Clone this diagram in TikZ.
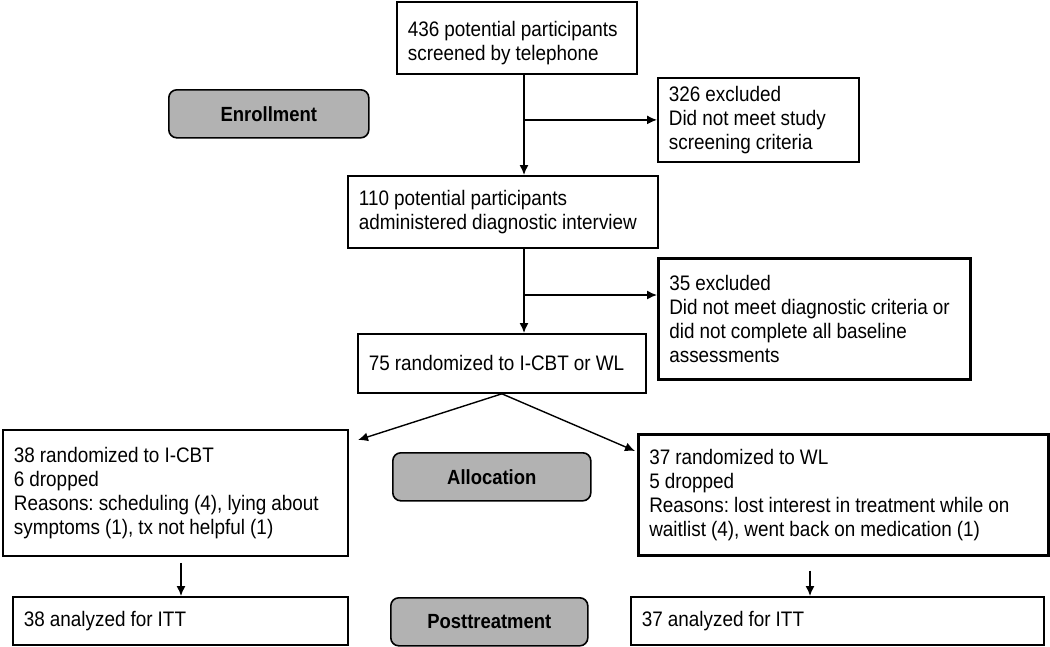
\documentclass[tikz,border=0pt]{standalone}
\usepackage{fontspec}
\setmainfont{Liberation Sans}[FakeStretch=0.9]
\usetikzlibrary{arrows.meta}
\newcommand\tightsp{\frenchspacing\spaceskip=0.24em plus 0.1em\relax}
\begin{document}
\begin{tikzpicture}[x=1pt,y=-1pt,
  box/.style={draw, line width=1.8pt, anchor=north west, align=left,
    inner xsep=11pt, inner ysep=0pt,
    font=\fontsize{21}{24}\selectfont, execute at begin node=\tightsp},
  thickbox/.style={box, line width=2.6pt},
  stage/.style={draw, line width=1.6pt, fill=black!30, rounded corners=8pt,
    anchor=north west, inner sep=0pt, font=\fontsize{20.5}{22}\selectfont\bfseries},
  arr/.style={line width=1.4pt, -{Latex[length=10pt,width=9pt]}}]
\path[use as bounding box] (0,0) rectangle (1050,646);

% main column
\node[box, minimum width=240pt, minimum height=72pt, text width=218pt] (b1) at (396,1)
  {\rule{0pt}{26pt}436 potential participants\\screened by telephone};
\node[box, minimum width=201pt, minimum height=84pt, text width=179pt] (x1) at (657,77)
  {326 excluded\\Did not meet study\\screening criteria};
\node[box, minimum width=310pt, minimum height=72pt, text width=288pt] (b2) at (347,175)
  {110 potential participants\\administered diagnostic interview};
\node[thickbox, minimum width=312pt, minimum height=121pt, text width=290pt] (x2) at (657,257)
  {35 excluded\\Did not meet diagnostic criteria or\\did not complete all baseline\\assessments};
\node[box, minimum width=288pt, minimum height=59pt, text width=266pt] (b3) at (357,333)
  {75 randomized to I-CBT or WL};

% arms
\node[box, minimum width=345pt, minimum height=126pt, text width=323pt] (l1) at (2,429)
  {38 randomized to I-CBT\\6 dropped\\Reasons: scheduling (4), lying about\\symptoms (1), tx not helpful (1)};
\node[thickbox, minimum width=410pt, minimum height=121pt, text width=388pt] (r1) at (637,433)
  {37 randomized to WL\\5 dropped\\Reasons: lost interest in treatment while on\\waitlist (4), went back on medication (1)};
\node[box, minimum width=335pt, minimum height=48pt, text width=313pt] (l2) at (12,596)
  {38 analyzed for ITT};
\node[box, minimum width=413pt, minimum height=48pt, text width=391pt] (r2) at (630,596)
  {37 analyzed for ITT};

% stage labels
\node[stage, minimum width=200pt, minimum height=48pt] (enr) at (168,89) {Enrollment};
\node[stage, minimum width=198pt, minimum height=48pt] (alc) at (392,452) {Allocation};
\node[stage, minimum width=197pt, minimum height=48pt] (pst) at (390,597) {Posttreatment};

% connectors
\coordinate (mx) at (524,0);
\coordinate (lx) at (181,0);
\coordinate (rx) at (810,0);
\coordinate (lt) at (358,440);
\coordinate (rt) at (635,451);
\draw[arr] (b1.south -| mx) -- (b2.north -| mx);
\draw[arr] (x1.west -| mx) -- (x1.west);
\draw[arr] (b2.south -| mx) -- (b3.north -| mx);
\draw[arr] (mx |- 0,295) -- (x2.west |- 0,295);
\draw[arr] (b3.south) -- (lt);
\draw[arr] (b3.south) -- (rt);
\draw[arr, shorten <=6pt] (l1.south -| lx) -- (l2.north -| lx);
\draw[arr, shorten <=14pt] (r1.south -| rx) -- (r2.north -| rx);
\end{tikzpicture}
\end{document}
